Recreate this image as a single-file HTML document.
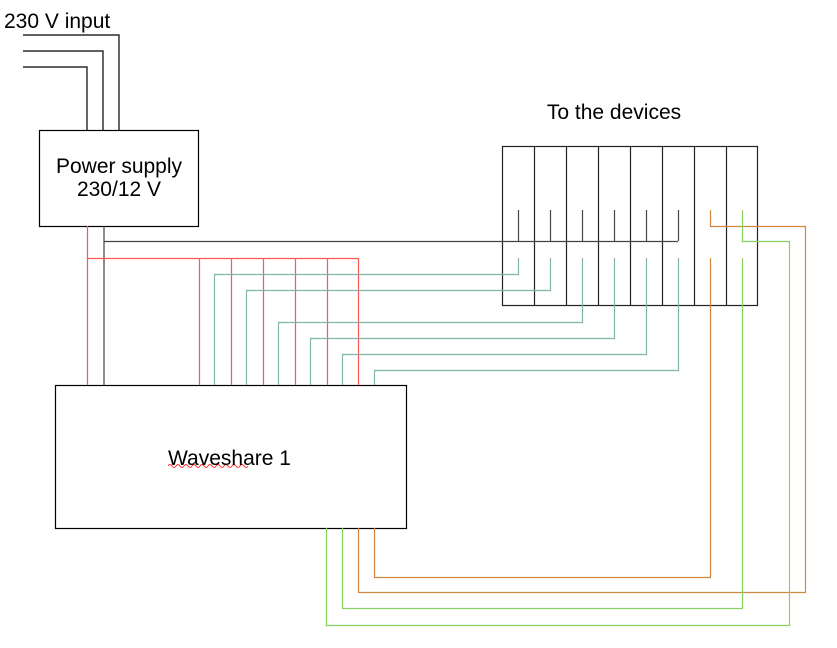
<!DOCTYPE html>
<html><head><meta charset="utf-8"><style>
html,body{margin:0;padding:0;background:#fff;}
svg{display:block;}
text{font-family:"Liberation Sans",sans-serif;font-size:21px;fill:#000;}
</style></head><body>
<svg width="837" height="648" viewBox="0 0 837 648" xmlns="http://www.w3.org/2000/svg">
<g fill="none" stroke-width="1.2">
<g stroke="#000">
<polyline points="23,35 119,35 119,130"/>
<polyline points="23,51 103,51 103,130"/>
<polyline points="23,67 87,67 87,130"/>
</g>
<rect x="39.5" y="130.5" width="159" height="96" stroke="#000"/>
<rect x="55.5" y="385.5" width="351" height="143" stroke="#000"/>
<g stroke="#222">
<rect x="502.5" y="146.5" width="255" height="159"/>
<line x1="534.5" y1="146" x2="534.5" y2="305"/>
<line x1="566.5" y1="146" x2="566.5" y2="305"/>
<line x1="598.5" y1="146" x2="598.5" y2="305"/>
<line x1="630.5" y1="146" x2="630.5" y2="305"/>
<line x1="662.5" y1="146" x2="662.5" y2="305"/>
<line x1="694.5" y1="146" x2="694.5" y2="305"/>
<line x1="726.5" y1="146" x2="726.5" y2="305"/>
</g>
<g stroke="#444">
<polyline points="104,226 104,385"/>
<polyline points="104,241.5 678,241.5"/>
<line x1="518.5" y1="210" x2="518.5" y2="241"/>
<line x1="550.5" y1="210" x2="550.5" y2="241"/>
<line x1="582.5" y1="210" x2="582.5" y2="241"/>
<line x1="614.5" y1="210" x2="614.5" y2="241"/>
<line x1="646.5" y1="210" x2="646.5" y2="241"/>
<line x1="678.5" y1="210" x2="678.5" y2="241"/>
</g>
<g stroke="#ff5555">
<line x1="87.5" y1="226" x2="87.5" y2="385"/>
<line x1="87" y1="258.5" x2="358.5" y2="258.5"/>
<line x1="199.5" y1="258" x2="199.5" y2="385"/>
<line x1="231.5" y1="258" x2="231.5" y2="385"/>
<line x1="263.5" y1="258" x2="263.5" y2="385"/>
<line x1="295.5" y1="258" x2="295.5" y2="385"/>
<line x1="327.5" y1="258" x2="327.5" y2="385"/>
<line x1="358.5" y1="258" x2="358.5" y2="385"/>
</g>
<g stroke="#7fb5aa">
<polyline points="518.5,258 518.5,274.5 214.5,274.5 214.5,385"/>
<polyline points="550.5,258 550.5,290.5 246.5,290.5 246.5,385"/>
<polyline points="582.5,258 582.5,322.5 278.5,322.5 278.5,385"/>
<polyline points="614.5,258 614.5,338.5 310.5,338.5 310.5,385"/>
<polyline points="646.5,258 646.5,354.5 342.5,354.5 342.5,385"/>
<polyline points="678.5,258 678.5,370.5 374.5,370.5 374.5,385"/>
</g>
<g stroke="#d08840">
<polyline points="710.5,210 710.5,226.5 805.5,226.5 805.5,592.5 358.5,592.5 358.5,528"/>
<polyline points="710.5,258 710.5,577.5 374.5,577.5 374.5,528"/>
</g>
<g stroke="#88d060">
<polyline points="742.5,210 742.5,241.5 789.5,241.5 789.5,625.5 326.5,625.5 326.5,528"/>
<polyline points="742.5,258 742.5,608.5 342.5,608.5 342.5,528"/>
</g>
<path d="M168,466 q2,-3 4,0 t4,0 t4,0 t4,0 t4,0 t4,0 t4,0 t4,0 t4,0 t4,0 t4,0 t4,0 t4,0 t4,0 t4,0 t4,0 t4,0 t4,0 t4,0 t4,0" stroke="#ff3030" stroke-width="1"/>
</g>
<text x="4" y="28">230 V input</text>
<text x="119" y="173" text-anchor="middle">Power supply</text>
<text x="119" y="196" text-anchor="middle">230/12 V</text>
<text x="614" y="119" text-anchor="middle">To the devices</text>
<text x="168" y="465">Waveshare 1</text>
</svg>
</body></html>
